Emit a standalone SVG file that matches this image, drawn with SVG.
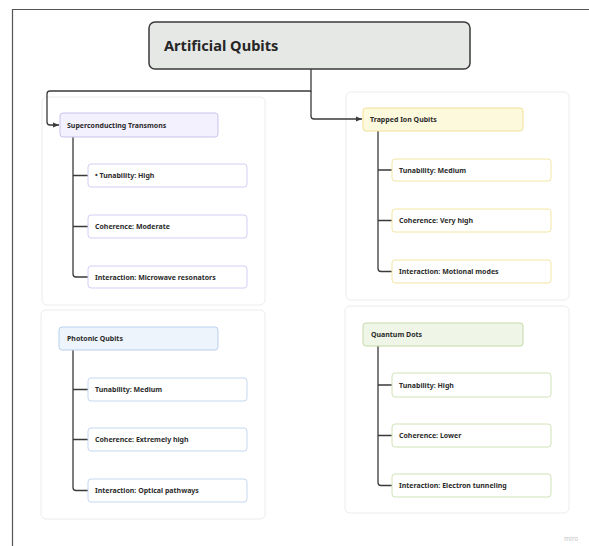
<svg xmlns="http://www.w3.org/2000/svg" width="589" height="546" viewBox="0 0 589 546">
<style>
.frame{fill:none;stroke:#555;stroke-width:1.2}
.cont{fill:#fff;stroke:#ececec;stroke-width:1}
.node{stroke-width:1}
.child{fill:#fff;stroke-width:1}
.t{font-family:"Noto Sans","Open Sans",sans-serif;font-weight:bold;font-size:7px;fill:#2b2b2b}
.root-t{font-family:"Noto Sans","Open Sans",sans-serif;font-weight:bold;font-size:14.6px;fill:#262626}
.c{fill:none;stroke:#3a3a3a;stroke-width:1.3}
.s-n{fill:#f3f1fd;stroke:#c9c3ee}.s-c{stroke:#d3cef3}
.y-n{fill:#fdf9dc;stroke:#f0e196}.y-c{stroke:#f2e6a4}
.b-n{fill:#eef4fc;stroke:#b9cfee}.b-c{stroke:#c5d7f1}
.g-n{fill:#eff6e7;stroke:#c4dba7}.g-c{stroke:#cfe2b8}
</style>
<defs>
<marker id="arr" viewBox="0 0 6 6" refX="6" refY="3" markerWidth="6" markerHeight="6" markerUnits="userSpaceOnUse" orient="auto">
<path d="M0,0.5 L6,3 L0,5.5 z" fill="#3a3a3a"/>
</marker>
</defs>
<rect width="589" height="546" fill="#fff"/>
<path class="frame" d="M12.5 546 V9.5 H589"/>

<rect class="cont" x="42" y="97" width="223" height="208" rx="5"/>
<rect class="cont" x="346" y="92" width="223" height="208" rx="5"/>
<rect class="cont" x="41" y="310" width="224" height="209" rx="5"/>
<rect class="cont" x="345" y="306" width="224" height="207" rx="5"/>

<g id="connectors">
<path class="c" d="M311 69 V91 H50 Q47 91 47 94 V122 Q47 125 50 125 H59" marker-end="url(#arr)"/>
<path class="c" d="M311 91 V116 Q311 119 314 119 H362" marker-end="url(#arr)"/>
<path class="c" d="M73 137 V274 Q73 277 76 277 H88 M73 175.5 H88 M73 226.5 H88"/>
<path class="c" d="M378 131 V268.5 Q378 271.5 381 271.5 H392 M378 170 H392 M378 220.5 H392"/>
<path class="c" d="M73 350 V487.5 Q73 490.5 76 490.5 H88 M73 389.5 H88 M73 439.5 H88"/>
<path class="c" d="M378 346 V482.5 Q378 485.5 381 485.5 H392 M378 385 H392 M378 435.5 H392"/>
</g>

<g id="root">
<rect x="149" y="22" width="321" height="47" rx="6" fill="#e6e8e6" stroke="#3a3a3a" stroke-width="1.5"/>
<text class="root-t" x="164" y="51">Artificial Qubits</text>
</g>

<g id="superconducting">
<rect class="node s-n" x="60" y="113" width="158" height="24" rx="3"/>
<text class="t" x="67" y="127.5">Superconducting Transmons</text>
</g>
<g id="sc-tunability">
<rect class="child s-c" x="88" y="164" width="159" height="23" rx="3"/>
<text class="t" x="95" y="178">• Tunability: High</text>
</g>
<g id="sc-coherence">
<rect class="child s-c" x="88" y="215" width="159" height="23" rx="3"/>
<text class="t" x="95" y="229">Coherence: Moderate</text>
</g>
<g id="sc-interaction">
<rect class="child s-c" x="88" y="266" width="159" height="22" rx="3"/>
<text class="t" x="95" y="279.5">Interaction: Microwave resonators</text>
</g>

<g id="trapped-ion">
<rect class="node y-n" x="363" y="108" width="160" height="23" rx="3"/>
<text class="t" x="370" y="122">Trapped Ion Qubits</text>
</g>
<g id="ti-tunability">
<rect class="child y-c" x="392" y="159" width="159" height="22" rx="3"/>
<text class="t" x="399" y="172.5">Tunability: Medium</text>
</g>
<g id="ti-coherence">
<rect class="child y-c" x="392" y="209" width="159" height="23" rx="3"/>
<text class="t" x="399" y="223">Coherence: Very high</text>
</g>
<g id="ti-interaction">
<rect class="child y-c" x="392" y="260" width="159" height="23" rx="3"/>
<text class="t" x="399" y="274">Interaction: Motional modes</text>
</g>

<g id="photonic">
<rect class="node b-n" x="59" y="327" width="159" height="23" rx="3"/>
<text class="t" x="67" y="341">Photonic Qubits</text>
</g>
<g id="ph-tunability">
<rect class="child b-c" x="88" y="378" width="159" height="23" rx="3"/>
<text class="t" x="95" y="392">Tunability: Medium</text>
</g>
<g id="ph-coherence">
<rect class="child b-c" x="88" y="428" width="159" height="23" rx="3"/>
<text class="t" x="95" y="442">Coherence: Extremely high</text>
</g>
<g id="ph-interaction">
<rect class="child b-c" x="88" y="479" width="159" height="23" rx="3"/>
<text class="t" x="95" y="493">Interaction: Optical pathways</text>
</g>

<g id="quantum-dots">
<rect class="node g-n" x="363" y="323" width="160" height="23" rx="3"/>
<text class="t" x="371" y="337">Quantum Dots</text>
</g>
<g id="qd-tunability">
<rect class="child g-c" x="392" y="373" width="159" height="24" rx="3"/>
<text class="t" x="399" y="387.5">Tunability: High</text>
</g>
<g id="qd-coherence">
<rect class="child g-c" x="392" y="424" width="159" height="23" rx="3"/>
<text class="t" x="399" y="438">Coherence: Lower</text>
</g>
<g id="qd-interaction">
<rect class="child g-c" x="392" y="474" width="159" height="23" rx="3"/>
<text class="t" x="399" y="488">Interaction: Electron tunneling</text>
</g>

<text x="564" y="541" font-family="'Noto Sans',sans-serif" font-size="6.5" fill="#c4c4c4">miro</text>
</svg>
